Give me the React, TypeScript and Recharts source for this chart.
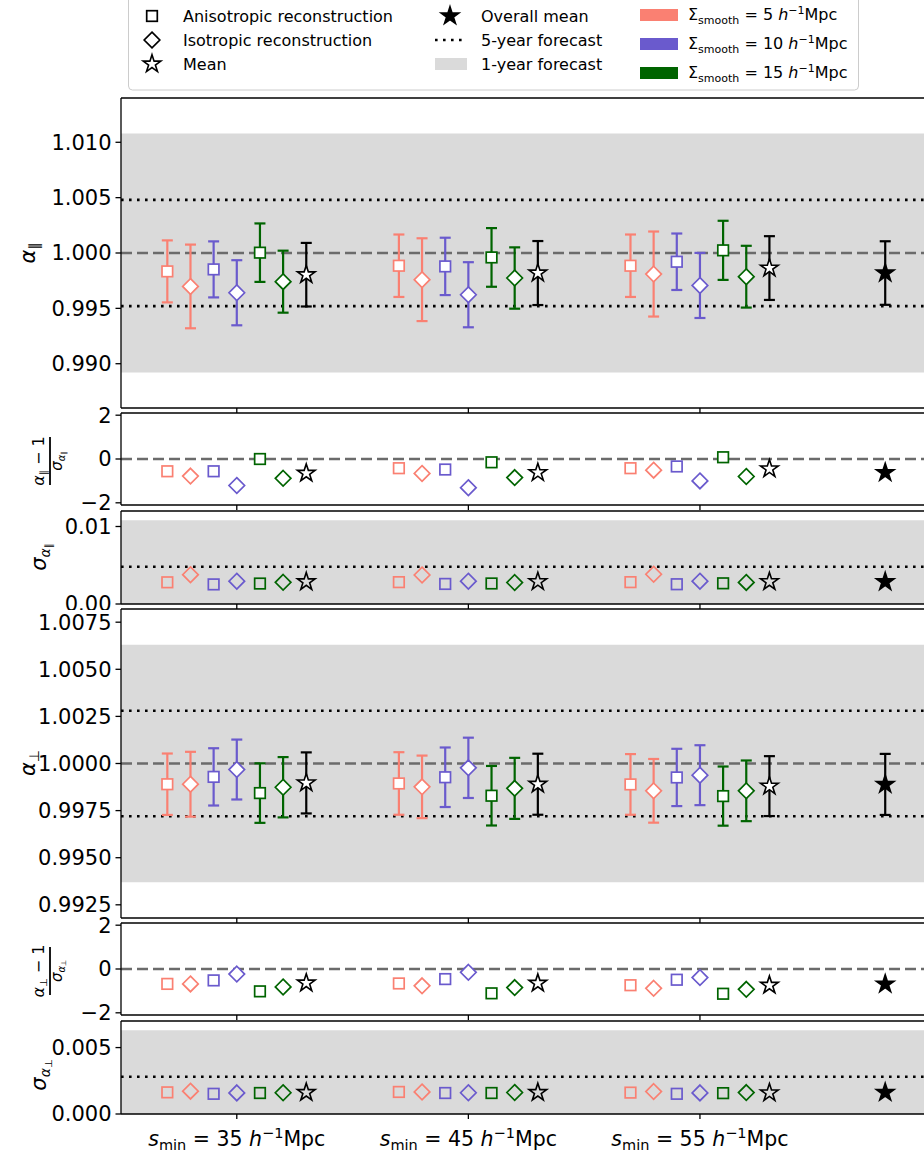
import React from "react";
import { ComposedChart, ErrorBar, ReferenceArea, ReferenceLine, Scatter, XAxis, YAxis } from "recharts";

const FONT = "'DejaVu Sans', sans-serif";

// x layout: one group per s_min cut, seven offsets per group, overall mean on its own
const GROUP_X = [0, 1, 2];
const GROUP_LABELS = ["35", "45", "55"];
const SERIES_KEYS = ["aniso5", "iso5", "aniso10", "iso10", "aniso15", "iso15", "mean"];
const SERIES_OFFSET = [-0.3, -0.2, -0.1, 0, 0.1, 0.2, 0.3];
const OVERALL_X = 2.8;

// alpha_parallel, one row per series, one value per s_min
const ALPHA_PAR = [
  [0.99834, 0.99885, 0.99885],
  [0.99698, 0.99759, 0.9981],
  [0.99852, 0.99879, 0.99921],
  [0.99641, 0.99623, 0.99707],
  [1.00003, 0.9996, 1.00024],
  [0.99741, 0.99774, 0.99786],
  [0.99804, 0.99819, 0.99864],
];
const SIGMA_PAR = [
  [0.0028, 0.00282, 0.00282],
  [0.00378, 0.00374, 0.00384],
  [0.00253, 0.00259, 0.00255],
  [0.00294, 0.00294, 0.00294],
  [0.00264, 0.00265, 0.00267],
  [0.0028, 0.00277, 0.00279],
  [0.00287, 0.00289, 0.00288],
];
const PULL_PAR = [
  [-0.56, -0.42, -0.42],
  [-0.78, -0.66, -0.51],
  [-0.56, -0.48, -0.34],
  [-1.21, -1.31, -1.0],
  [0.0, -0.15, 0.08],
  [-0.88, -0.85, -0.8],
  [-0.65, -0.62, -0.45],
];

// alpha_perp
const ALPHA_PERP = [
  [0.9989, 0.99894, 0.99889],
  [0.9989, 0.99876, 0.99855],
  [0.99929, 0.99927, 0.99926],
  [0.99968, 0.99977, 0.99938],
  [0.99843, 0.99829, 0.99827],
  [0.99874, 0.99868, 0.99855],
  [0.99897, 0.9989, 0.9988],
];
const SIGMA_PERP = [
  [0.00163, 0.00166, 0.00161],
  [0.00172, 0.00166, 0.00169],
  [0.00152, 0.00158, 0.00152],
  [0.00159, 0.0016, 0.00159],
  [0.00158, 0.00158, 0.00157],
  [0.0016, 0.00162, 0.00161],
  [0.00162, 0.00162, 0.00159],
];
const PULL_PERP = [
  [-0.68, -0.66, -0.74],
  [-0.68, -0.77, -0.88],
  [-0.52, -0.46, -0.49],
  [-0.23, -0.15, -0.39],
  [-1.02, -1.11, -1.13],
  [-0.82, -0.85, -0.93],
  [-0.64, -0.65, -0.74],
];

// overall mean: [alpha, sigma, pull]
const OVERALL_PAR = [0.99819, 0.00287, -0.62];
const OVERALL_PERP = [0.99889, 0.00162, -0.69];

// forecast precision
const FORECAST_1YR = { par: 0.0108, perp: 0.0063 };
const FORECAST_5YR = { par: 0.0048, perp: 0.0028 };

// styles (kept apart from the data)
const SALMON = "#fa8072";
const SLATE = "#6a5acd";
const GREEN = "#006400";
const STYLE = [
  { color: SALMON, shape: "square" },
  { color: SALMON, shape: "diamond" },
  { color: SLATE, shape: "square" },
  { color: SLATE, shape: "diamond" },
  { color: GREEN, shape: "square" },
  { color: GREEN, shape: "diamond" },
  { color: "#000", shape: "star" },
];
const BAND = "#dadada";
const DASH_GREY = "#6b6b6b";

const CHART_W = 1010;
const X_DOMAIN = [-0.5, 3.3];
const TICK_FS = 21;
const PAD_TOP = 12;

function starPoints(cx: number, cy: number, r: number) {
  const inner = r * 0.382;
  const pts: string[] = [];
  for (let i = 0; i < 10; i++) {
    const rad = i % 2 === 0 ? r : inner;
    const a = -Math.PI / 2 + (i * Math.PI) / 5;
    pts.push(`${cx + rad * Math.cos(a)},${cy + rad * Math.sin(a)}`);
  }
  return pts.join(" ");
}

function Marker({ cx, cy, shape, color, fill }: any) {
  if (cx == null || cy == null) return null;
  if (shape === "square")
    return <rect x={cx - 5.3} y={cy - 5.3} width={10.6} height={10.6} fill={fill} stroke={color} strokeWidth={1.7} />;
  if (shape === "diamond")
    return (
      <polygon
        points={`${cx},${cy - 7.8} ${cx + 7.8},${cy} ${cx},${cy + 7.8} ${cx - 7.8},${cy}`}
        fill={fill}
        stroke={color}
        strokeWidth={1.7}
      />
    );
  return <polygon points={starPoints(cx, cy, 9.3)} fill={fill} stroke={color} strokeWidth={1.6} strokeLinejoin="miter" />;
}

const noTick = () => <g />;

function XTick({ x, y, payload }: any) {
  const lbl = GROUP_LABELS[payload.value];
  return (
    <text x={x} y={y + 25} textAnchor="middle" fontFamily={FONT} fontSize={20.5} fill="#000">
      <tspan fontStyle="italic">s</tspan>
      <tspan fontSize={14.5} dy={4}>min</tspan>
      <tspan dy={-4}>{` = ${lbl} `}</tspan>
      <tspan fontStyle="italic">h</tspan>
      <tspan fontSize={14.5} dy={-8}>−1</tspan>
      <tspan dy={8}>Mpc</tspan>
    </text>
  );
}

type Kind = "alpha" | "pull" | "sigma";

function Panel({ top, height, domain, ticks, fmt, values, errors, overall, kind, f1, f5, last }: any) {
  // room under the frame: tick marks only, a bit more for the pull panels so "−2" is not clipped
  const xh = last ? 40 : kind === "pull" ? 11 : 6;
  const fill = kind === "sigma" ? "none" : "#fff";
  return (
    <div style={{ position: "absolute", left: 0, top: top - PAD_TOP }}>
      <ComposedChart
        width={CHART_W}
        height={height + PAD_TOP + xh}
        margin={{ top: PAD_TOP, right: 9, bottom: 0, left: 0 }}
      >
        <XAxis
          type="number"
          dataKey="x"
          domain={X_DOMAIN}
          ticks={GROUP_X}
          allowDataOverflow
          height={xh}
          tickSize={5}
          tickMargin={2}
          interval={0}
          tick={last ? <XTick /> : noTick}
          axisLine={{ stroke: "#000", strokeWidth: 1.3 }}
          tickLine={{ stroke: "#000", strokeWidth: 1.3 }}
        />
        <YAxis
          type="number"
          dataKey="y"
          domain={domain}
          ticks={ticks}
          allowDataOverflow
          interval={0}
          width={121}
          tickSize={5.5}
          tickMargin={4}
          tickFormatter={fmt}
          tick={{ fill: "#000", fontSize: TICK_FS, fontFamily: FONT }}
          axisLine={{ stroke: "#000", strokeWidth: 1.3 }}
          tickLine={{ stroke: "#000", strokeWidth: 1.3 }}
        />
        {kind === "alpha" && <ReferenceArea y1={1 - f1} y2={1 + f1} fill={BAND} fillOpacity={1} stroke="none" />}
        {kind === "sigma" && <ReferenceArea y1={0} y2={f1} fill={BAND} fillOpacity={1} stroke="none" />}
        {kind === "alpha" && (
          <ReferenceLine y={1 + f5} stroke="#000" strokeWidth={2.6} strokeDasharray="2.6 5.4" />
        )}
        {kind === "alpha" && (
          <ReferenceLine y={1 - f5} stroke="#000" strokeWidth={2.6} strokeDasharray="2.6 5.4" />
        )}
        {kind === "sigma" && <ReferenceLine y={f5} stroke="#000" strokeWidth={2.6} strokeDasharray="2.6 5.4" />}
        {kind !== "sigma" && (
          <ReferenceLine y={kind === "alpha" ? 1 : 0} stroke={DASH_GREY} strokeWidth={2.4} strokeDasharray="11 5" />
        )}
        <ReferenceLine y={domain[1]} stroke="#000" strokeWidth={1.3} />
        {SERIES_KEYS.map((key, s) => {
          const rows = GROUP_X.map((g, i) => ({
            x: g + SERIES_OFFSET[s],
            y: values[s][i],
            err: errors ? errors[s][i] : 0,
          }));
          const st = STYLE[s];
          return (
            <Scatter
              key={key}
              data={rows}
              isAnimationActive={false}
              shape={(p: any) => <Marker cx={p.cx} cy={p.cy} shape={st.shape} color={st.color} fill={fill} />}
            >
              {kind === "alpha" && (
                <ErrorBar dataKey="err" direction="y" width={5.5} stroke={st.color} strokeWidth={2.2} />
              )}
            </Scatter>
          );
        })}
        <Scatter
          data={[{ x: OVERALL_X, y: overall[0], err: overall[1] }]}
          isAnimationActive={false}
          shape={(p: any) => <Marker cx={p.cx} cy={p.cy} shape="star" color="#000" fill="#000" />}
        >
          {kind === "alpha" && <ErrorBar dataKey="err" direction="y" width={5.5} stroke="#000" strokeWidth={2.2} />}
        </Scatter>
      </ComposedChart>
    </div>
  );
}

const minusFmt = (v: number) => (v < 0 ? `−${Math.abs(v)}` : `${v}`);

function Legend() {
  const rowY = [16, 40, 64];
  const txt = { fontFamily: FONT, fontSize: 16, fill: "#000" };
  return (
    <svg width={924} height={96} style={{ position: "absolute", left: 0, top: 0 }}>
      <rect x={128.5} y={-6} width={730} height={96} rx={4} fill="#fff" fillOpacity={0.8} stroke="#cccccc" />
      <Marker cx={152} cy={rowY[0]} shape="square" color="#000" fill="none" />
      <Marker cx={152} cy={rowY[1]} shape="diamond" color="#000" fill="none" />
      <Marker cx={152} cy={rowY[2]} shape="star" color="#000" fill="none" />
      <text x={183} y={rowY[0] + 6} {...txt}>Anisotropic reconstruction</text>
      <text x={183} y={rowY[1] + 6} {...txt}>Isotropic reconstruction</text>
      <text x={183} y={rowY[2] + 6} {...txt}>Mean</text>

      <Marker cx={450} cy={rowY[0]} shape="star" color="#000" fill="#000" />
      <line x1={435} x2={467} y1={rowY[1]} y2={rowY[1]} stroke="#000" strokeWidth={2.6} strokeDasharray="2.6 5.4" />
      <rect x={435} y={rowY[2] - 6} width={32} height={12} fill={BAND} />
      <text x={481} y={rowY[0] + 6} {...txt}>Overall mean</text>
      <text x={481} y={rowY[1] + 6} {...txt}>5-year forecast</text>
      <text x={481} y={rowY[2] + 6} {...txt}>1-year forecast</text>

      {[
        { c: SALMON, v: "5", y: 15 },
        { c: SLATE, v: "10", y: 44 },
        { c: GREEN, v: "15", y: 73 },
      ].map((r) => (
        <g key={r.v}>
          <rect x={640} y={r.y - 6} width={38} height={12} fill={r.c} />
          <text x={688} y={r.y + 5} {...txt}>
            <tspan>Σ</tspan>
            <tspan fontSize={11} dy={4}>smooth</tspan>
            <tspan dy={-4}>{` = ${r.v} `}</tspan>
            <tspan fontStyle="italic">h</tspan>
            <tspan fontSize={11} dy={-6}>−1</tspan>
            <tspan dy={6}>Mpc</tspan>
          </text>
        </g>
      ))}
    </svg>
  );
}

function YLabels() {
  const base = { fontFamily: FONT, fill: "#000", textAnchor: "middle" as const };
  const frac = (cy: number, sub: string) => (
    <g transform={`translate(50, ${cy}) rotate(-90)`}>
      <text x={0} y={-6} {...base} fontSize={16}>
        <tspan fontStyle="italic">α</tspan>
        <tspan fontSize={10} dy={3}>{sub}</tspan>
        <tspan dy={-3}>{" − 1"}</tspan>
      </text>
      <line x1={-24} x2={24} y1={0} y2={0} stroke="#000" strokeWidth={1.8} />
      <text x={0} y={12} {...base} fontSize={15}>
        <tspan fontStyle="italic">σ</tspan>
        <tspan fontSize={10} dy={3} fontStyle="italic">α</tspan>
        <tspan fontSize={7} dy={1}>{sub}</tspan>
      </text>
    </g>
  );
  const single = (cx: number, cy: number, sym: string, sub: string, nested: boolean) => (
    <g transform={`translate(${cx}, ${cy}) rotate(-90)`}>
      <text x={0} y={0} {...base} fontSize={21}>
        <tspan fontStyle="italic">{sym}</tspan>
        {nested ? (
          <>
            <tspan fontSize={14} dy={4} fontStyle="italic">α</tspan>
            <tspan fontSize={10} dy={2}>{sub}</tspan>
          </>
        ) : (
          <tspan fontSize={14} dy={4}>{sub}</tspan>
        )}
      </text>
    </g>
  );
  return (
    <svg width={924} height={1157} style={{ position: "absolute", left: 0, top: 0, pointerEvents: "none" }}>
      {single(35, 253, "α", "∥", false)}
      {frac(461, "∥")}
      {single(46, 557, "σ", "∥", true)}
      {single(35, 763, "α", "⊥", false)}
      {frac(971, "⊥")}
      {single(46, 1075, "σ", "⊥", true)}
    </svg>
  );
}

export default function App() {
  return (
    <div
      style={{
        position: "absolute",
        left: 0,
        top: 0,
        width: 924,
        height: 1157,
        overflow: "hidden",
        background: "#fff",
      }}
    >
      <Panel
        top={98}
        height={310}
        domain={[0.986, 1.014]}
        ticks={[0.99, 0.995, 1.0, 1.005, 1.01]}
        fmt={(v: number) => v.toFixed(3)}
        values={ALPHA_PAR}
        errors={SIGMA_PAR}
        overall={OVERALL_PAR}
        kind={"alpha" as Kind}
        f1={FORECAST_1YR.par}
        f5={FORECAST_5YR.par}
      />
      <Panel
        top={413}
        height={92}
        domain={[-2.1, 2.1]}
        ticks={[-2, 0, 2]}
        fmt={minusFmt}
        values={PULL_PAR}
        overall={[OVERALL_PAR[2]]}
        kind={"pull" as Kind}
      />
      <Panel
        top={511}
        height={93}
        domain={[0, 0.012]}
        ticks={[0, 0.01]}
        fmt={(v: number) => v.toFixed(2)}
        values={SIGMA_PAR}
        overall={[OVERALL_PAR[1]]}
        kind={"sigma" as Kind}
        f1={FORECAST_1YR.par}
        f5={FORECAST_5YR.par}
      />
      <Panel
        top={609}
        height={309}
        domain={[0.9918, 1.0082]}
        ticks={[0.9925, 0.995, 0.9975, 1.0, 1.0025, 1.005, 1.0075]}
        fmt={(v: number) => v.toFixed(4)}
        values={ALPHA_PERP}
        errors={SIGMA_PERP}
        overall={OVERALL_PERP}
        kind={"alpha" as Kind}
        f1={FORECAST_1YR.perp}
        f5={FORECAST_5YR.perp}
      />
      <Panel
        top={923}
        height={92}
        domain={[-2.1, 2.1]}
        ticks={[-2, 0, 2]}
        fmt={minusFmt}
        values={PULL_PERP}
        overall={[OVERALL_PERP[2]]}
        kind={"pull" as Kind}
      />
      <Panel
        top={1021}
        height={93}
        domain={[0, 0.007]}
        ticks={[0, 0.005]}
        fmt={(v: number) => v.toFixed(3)}
        values={SIGMA_PERP}
        overall={[OVERALL_PERP[1]]}
        kind={"sigma" as Kind}
        f1={FORECAST_1YR.perp}
        f5={FORECAST_5YR.perp}
        last
      />
      <YLabels />
      <Legend />
    </div>
  );
}
